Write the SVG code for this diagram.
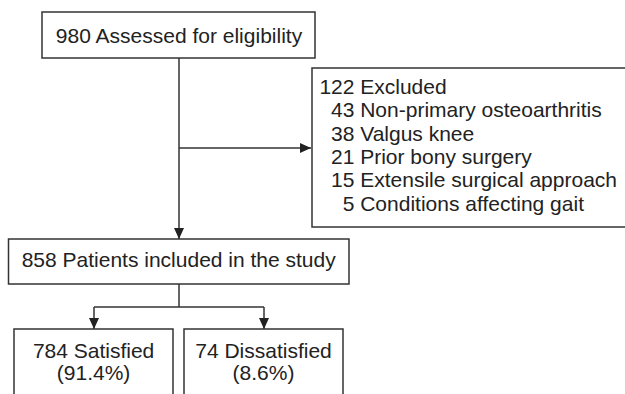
<svg xmlns="http://www.w3.org/2000/svg" width="625" height="394" viewBox="0 0 625 394">
<defs>
<style>
.box{fill:#fff;stroke:#333;stroke-width:1.5}
.t{font-family:"Liberation Sans",Arial,sans-serif;font-size:21px;fill:#222}
.c{text-anchor:middle}
.ln{fill:none;stroke:#333;stroke-width:1.5}
</style>
<marker id="ah" markerUnits="userSpaceOnUse" markerWidth="11" markerHeight="10" refX="11" refY="5" orient="auto">
<path d="M0,0 L11,5 L0,10 z" fill="#222"/>
</marker>
</defs>
<rect width="625" height="394" fill="#fff"/>
<g id="connectors">
<line class="ln" x1="179" y1="58" x2="179" y2="239" marker-end="url(#ah)"/>
<line class="ln" x1="179" y1="148" x2="311" y2="148" marker-end="url(#ah)"/>
<polyline class="ln" points="179,284 179,307"/>
<line class="ln" x1="94" y1="307" x2="264" y2="307"/>
<line class="ln" x1="94" y1="307" x2="94" y2="329" marker-end="url(#ah)"/>
<line class="ln" x1="264" y1="307" x2="264" y2="329" marker-end="url(#ah)"/>
</g>
<g id="assessed">
<rect class="box" x="42" y="12" width="273" height="46"/>
<text class="t c" x="179" y="42.5">980 Assessed for eligibility</text>
</g>
<g id="excluded">
<rect class="box" x="312" y="68" width="330" height="159"/>
<text class="t" x="319.4" y="94">122 Excluded</text>
<text class="t" x="331" y="117">43 Non-primary osteoarthritis</text>
<text class="t" x="331" y="140.5">38 Valgus knee</text>
<text class="t" x="331" y="164">21 Prior bony surgery</text>
<text class="t" x="331" y="187.3">15 Extensile surgical approach</text>
<text class="t" x="342.7" y="210.6">5 Conditions affecting gait</text>
</g>
<g id="included">
<rect class="box" x="8.5" y="239" width="340.5" height="45"/>
<text class="t c" x="178.7" y="267">858 Patients included in the study</text>
</g>
<g id="satisfied">
<rect class="box" x="14" y="329" width="159" height="80"/>
<text class="t c" x="93.6" y="358.3">784 Satisfied</text>
<text class="t c" x="93.6" y="379.5">(91.4%)</text>
</g>
<g id="dissatisfied">
<rect class="box" x="184" y="329" width="159" height="80"/>
<text class="t c" x="263.5" y="358.3">74 Dissatisfied</text>
<text class="t c" x="263.5" y="379.5">(8.6%)</text>
</g>
</svg>
